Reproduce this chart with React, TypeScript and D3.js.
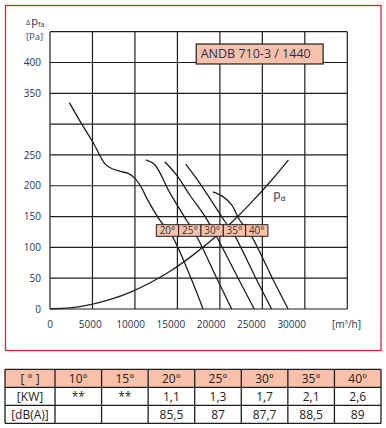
import { scaleLinear, line as d3line, curveCatmullRom, range } from "d3";

// fan curves, [flow m3/h, pressure Pa]
const curve20 = [
  [2400, 335], [3850, 302], [5400, 269], [6800, 236], [7650, 228],
  [8700, 223.5], [9700, 220], [10550, 212], [11400, 196], [12000, 180],
  [13650, 144], [15100, 120], [17500, 50], [19000, 0],
];
const curve25 = [[11900, 242], [13000, 234], [14900, 188], [16950, 144], [18200, 118], [20700, 50], [22550, 0]];
const curve30 = [[14250, 239], [15700, 217.5], [17350, 185], [19250, 150], [20450, 123], [23350, 50], [25350, 0]];
const curve35 = [[16850, 235], [18600, 204], [20250, 171.5], [21700, 142], [22750, 123], [25550, 50], [27500, 0]];
const curve40 = [[20200, 190], [21500, 182], [22550, 169], [23550, 144], [24800, 123], [27600, 50], [29550, 0]];
const curvePd = [
  [0, 0], [2500, 1.7], [5000, 7], [7500, 15.5], [10000, 27.5], [12500, 43], [15000, 62],
  [17500, 85], [20000, 111], [22500, 140], [25000, 173], [27500, 209], [29600, 242],
];

const angleLabels = ["20°", "25°", "30°", "35°", "40°"];
const xTicks = [0, 5000, 10000, 15000, 20000, 25000, 30000];
const yTicks = [0, 50, 100, 150, 200, 250, 350, 400];
const yGrid = [0, 50, 100, 150, 200, 250, 300, 350, 400, 450];
const model = "ANDB 710-3 / 1440";

const tableHead = ["[ ° ]", "10°", "15°", "20°", "25°", "30°", "35°", "40°"];
const tableKw = ["[KW]", "**", "**", "1,1", "1,3", "1,7", "2,1", "2,6"];
const tableDb = ["[dB(A)]", "", "", "85,5", "87", "87,7", "88,5", "89"];

const FONT = "'Open Sans', 'Liberation Sans', sans-serif";
const NAVY = "#243456";
const SALMON = "#f9c1aa";
const INK = "#1e1e1e";

export default function App() {
  const plot = { left: 50, top: 31.7, right: 347.3, bottom: 309 };

  const x = scaleLinear().domain([0, 30000]).range([plot.left, 291.7]);
  const y = scaleLinear().domain([0, 450]).range([plot.bottom, plot.top]);

  const line = d3line<number[]>()
    .x((d) => x(d[0]))
    .y((d) => y(d[1]))
    .curve(curveCatmullRom.alpha(0.5));

  const curves = [curve20, curve25, curve30, curve35, curve40];

  // grid columns are just even cells, not tied to the tick labels
  const colW = (plot.right - plot.left) / 7;
  const gridX = range(8).map((i) => plot.left + i * colW);

  // angle label strip, anchored in data units
  const strip = { q0: 13200, dq: 2770, pTop: 136.8, pBottom: 118 };

  // table geometry
  const tLeft = 5, tRight = 381, tTop = 369.3, rowH = 18;
  const firstW = 50;
  const otherW = (tRight - tLeft - firstW) / 7;
  const colX = range(9).map((i) => (i === 0 ? tLeft : tLeft + firstW + (i - 1) * otherW));
  const rows = [tableHead, tableKw, tableDb];

  return (
    <svg
      width={386}
      height={428}
      style={{ position: "absolute", left: 0, top: 0, background: "#fff" }}
      fontFamily={FONT}
    >
      {/* outer red frame */}
      <rect x={5.5} y={5.5} width={375.5} height={345} fill="none" stroke="#e0242f" strokeWidth={1.3} />

      {/* Grid */}
      {gridX.map((gx, i) => (
        <line key={"gx" + i} x1={gx} x2={gx} y1={plot.top} y2={plot.bottom} stroke={INK} strokeWidth={1.2} />
      ))}
      {yGrid.map((v) => (
        <line key={"gy" + v} x1={plot.left} x2={plot.right} y1={y(v)} y2={y(v)} stroke={INK} strokeWidth={1.2} />
      ))}

      {/* Y axis labels */}
      {yTicks.map((v) => (
        <text key={"yt" + v} x={41} y={y(v) + 3.6} textAnchor="end" fontSize={10} fill={NAVY}>
          {v}
        </text>
      ))}
      <text x={26} y={25} fill={NAVY}>
        <tspan fontSize={7.5}>Δ</tspan>
        <tspan fontSize={11} dx={1}>p</tspan>
        <tspan fontSize={7} dy={2}>fa</tspan>
      </text>
      <text x={34.5} y={40} textAnchor="middle" fontSize={9.5} fill="#34477a">[Pa]</text>

      {/* X axis labels */}
      {xTicks.map((v) => (
        <text key={"xt" + v} x={x(v)} y={327.5} textAnchor="middle" fontSize={10} fill={NAVY}>
          {v}
        </text>
      ))}
      <text x={346.5} y={327.5} textAnchor="middle" fontSize={10} fill={NAVY}>
        [m<tspan fontSize={6} dy={-4}>3</tspan><tspan dy={4}>/h]</tspan>
      </text>

      {/* Curves */}
      <path d={line(curvePd) ?? undefined} fill="none" stroke={INK} strokeWidth={1.3} />
      {curves.map((c, i) => (
        <path key={"c" + i} d={line(c) ?? undefined} fill="none" stroke={INK} strokeWidth={1.3} />
      ))}

      {/* p_d label */}
      <text x={x(27700)} y={y(185) + 4} fill={NAVY}>
        <tspan fontSize={12}>p</tspan>
        <tspan fontSize={8} dy={2}>d</tspan>
      </text>

      {/* angle strip */}
      {angleLabels.map((lab, i) => {
        const x0 = x(strip.q0 + i * strip.dq);
        const x1 = x(strip.q0 + (i + 1) * strip.dq);
        return (
          <g key={lab}>
            <rect
              x={x0}
              y={y(strip.pTop)}
              width={x1 - x0}
              height={y(strip.pBottom) - y(strip.pTop)}
              fill={SALMON}
              stroke={INK}
              strokeWidth={1}
            />
            <text x={(x0 + x1) / 2} y={y(strip.pBottom) - 2.4} textAnchor="middle" fontSize={10} fill="#333">
              {lab}
            </text>
          </g>
        );
      })}

      {/* model box */}
      <rect
        x={x(18150)}
        y={y(430)}
        width={x(33900) - x(18150)}
        height={y(397.6) - y(430)}
        fill={SALMON}
        stroke={INK}
        strokeWidth={1.2}
      />
      <text x={x(18150) + 4.5} y={y(397.6) - 5.5} fontSize={12.5} fill={NAVY}>
        {model}
      </text>

      {/* table */}
      <rect x={tLeft} y={tTop} width={tRight - tLeft} height={rowH} fill={SALMON} />
      {rows.map((row, r) =>
        row.map((cell, c) => (
          <text
            key={"t" + r + "-" + c}
            x={(colX[c] + colX[c + 1]) / 2}
            y={tTop + r * rowH + rowH / 2 + 4.5}
            textAnchor="middle"
            fontSize={12}
            fill="#222"
          >
            {cell}
          </text>
        ))
      )}
      {range(4).map((r) => (
        <line key={"tr" + r} x1={tLeft} x2={tRight} y1={tTop + r * rowH} y2={tTop + r * rowH} stroke={INK} strokeWidth={1.3} />
      ))}
      {colX.map((cx, i) => (
        <line key={"tc" + i} x1={cx} x2={cx} y1={tTop} y2={tTop + 3 * rowH} stroke={INK} strokeWidth={1.3} />
      ))}
    </svg>
  );
}
